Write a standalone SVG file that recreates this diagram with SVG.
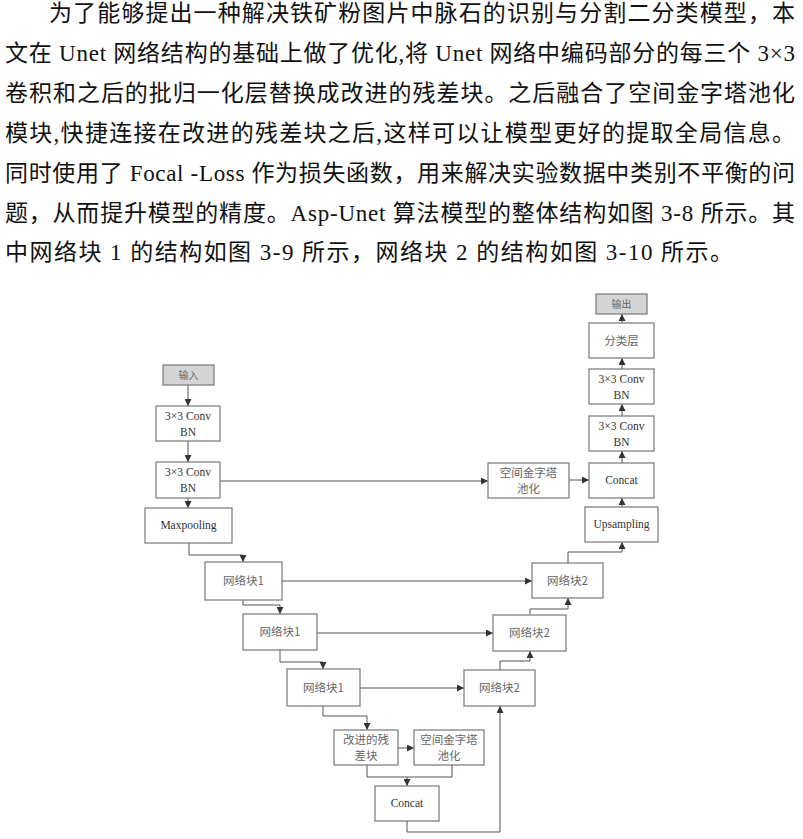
<svg xmlns="http://www.w3.org/2000/svg" width="803" height="839" viewBox="0 0 803 839">
<defs>
<marker id="ah" markerUnits="userSpaceOnUse" markerWidth="7" markerHeight="7" refX="7" refY="3.5" orient="auto">
<path d="M0,0 L7,3.5 L0,7 z" fill="#333"/>
</marker>
<style>
.para{font-family:"Liberation Serif","Noto Sans CJK SC",serif;font-size:23px;fill:#111}
.box{fill:#fff;stroke:#777;stroke-width:1.2}
.gbox{fill:#d4d4d4;stroke:#777;stroke-width:1.2}
.lat{font-family:"Liberation Serif","Noto Sans CJK SC",serif;font-size:11.5px;fill:#333;text-anchor:middle}
.cjk{font-family:"Noto Sans CJK SC",sans-serif;font-size:11.5px;fill:#666;text-anchor:middle}
.sm{font-size:10px}
.conn path{fill:none;stroke:#555;stroke-width:1;marker-end:url(#ah)}
.conn path.nm{marker-end:none}
</style>
</defs>
<rect width="803" height="839" fill="#fff"/>
<g id="paragraph">
<text class="para" x="49" y="21" textLength="746" lengthAdjust="spacing">为了能够提出一种解决铁矿粉图片中脉石的识别与分割二分类模型，本</text>
<text class="para" x="5" y="61" textLength="790" lengthAdjust="spacing">文在 Unet 网络结构的基础上做了优化,将 Unet 网络中编码部分的每三个 3×3</text>
<text class="para" x="5" y="101" textLength="790" lengthAdjust="spacing">卷积和之后的批归一化层替换成改进的残差块。之后融合了空间金字塔池化</text>
<text class="para" x="5" y="141" textLength="790" lengthAdjust="spacing">模块,快捷连接在改进的残差块之后,这样可以让模型更好的提取全局信息。</text>
<text class="para" x="5" y="181" textLength="790" lengthAdjust="spacing">同时使用了 Focal -Loss 作为损失函数，用来解决实验数据中类别不平衡的问</text>
<text class="para" x="5" y="221" textLength="790" lengthAdjust="spacing">题，从而提升模型的精度。Asp-Unet 算法模型的整体结构如图 3-8 所示。其</text>
<text class="para" x="5" y="260" textLength="728" lengthAdjust="spacing">中网络块 1 的结构如图 3-9 所示，网络块 2 的结构如图 3-10 所示。</text>
</g>
<g id="connectors" class="conn">
<path d="M188,385 V406"/>
<path d="M188,441 V462"/>
<path d="M188,498 V508"/>
<path d="M220,481 H488"/>
<path d="M569,480 H589"/>
<path d="M189,543 V555 H243 V562"/>
<path d="M243,600 V605 H280 V614"/>
<path d="M280,650 V662 H323 V669"/>
<path d="M323,706 V716 H367 V730"/>
<path d="M398,748 H414"/>
<path class="nm" d="M367,765 V777 H452 V765"/>
<path d="M407,777 V786"/>
<path d="M407,821 V832 H500 V706"/>
<path d="M282,581 H532"/>
<path d="M317,633 H493"/>
<path d="M360,688 H464"/>
<path d="M500,670 V661 H530 V651"/>
<path d="M530,615 V609 H568 V598"/>
<path d="M568,563 V552 H622 V542"/>
<path d="M622,507 V498"/>
<path d="M622,463 V451"/>
<path d="M622,416 V404"/>
<path d="M622,369 V358"/>
<path d="M622,323 V314"/>
</g>
<g id="input"><rect class="gbox" x="163" y="365" width="51" height="20"/><text class="cjk sm" x="188.5" y="379">输入</text></g>
<g id="conv1"><rect class="box" x="156" y="406" width="64" height="35"/><text class="lat" x="188" y="420">3×3 Conv</text><text class="lat" x="188" y="436">BN</text></g>
<g id="conv2"><rect class="box" x="156" y="462" width="64" height="36"/><text class="lat" x="188" y="476">3×3 Conv</text><text class="lat" x="188" y="492">BN</text></g>
<g id="maxpool"><rect class="box" x="145" y="508" width="87" height="35"/><text class="lat" x="188.5" y="529">Maxpooling</text></g>
<g id="nb1a"><rect class="box" x="205" y="562" width="77" height="38"/><text class="cjk" x="243.5" y="585">网络块1</text></g>
<g id="nb1b"><rect class="box" x="243" y="614" width="74" height="36"/><text class="cjk" x="280" y="636">网络块1</text></g>
<g id="nb1c"><rect class="box" x="287" y="669" width="73" height="37"/><text class="cjk" x="323.5" y="692">网络块1</text></g>
<g id="resblock"><rect class="box" x="334" y="730" width="64" height="35"/><text class="cjk" x="366" y="744">改进的残</text><text class="cjk" x="366" y="760">差块</text></g>
<g id="aspp2"><rect class="box" x="414" y="730" width="70" height="35"/><text class="cjk" x="449" y="744">空间金字塔</text><text class="cjk" x="449" y="760">池化</text></g>
<g id="concat2"><rect class="box" x="375" y="786" width="64" height="35"/><text class="lat" x="407" y="807">Concat</text></g>
<g id="nb2c"><rect class="box" x="464" y="670" width="71" height="36"/><text class="cjk" x="499.5" y="692">网络块2</text></g>
<g id="nb2b"><rect class="box" x="493" y="615" width="73" height="36"/><text class="cjk" x="529.5" y="637">网络块2</text></g>
<g id="nb2a"><rect class="box" x="532" y="563" width="71" height="35"/><text class="cjk" x="567.5" y="585">网络块2</text></g>
<g id="upsampling"><rect class="box" x="585" y="507" width="73" height="35"/><text class="lat" x="621.5" y="528">Upsampling</text></g>
<g id="aspp1"><rect class="box" x="488" y="463" width="81" height="35"/><text class="cjk" x="528.5" y="477">空间金字塔</text><text class="cjk" x="528.5" y="493">池化</text></g>
<g id="concat1"><rect class="box" x="589" y="463" width="65" height="35"/><text class="lat" x="621.5" y="484">Concat</text></g>
<g id="conv4"><rect class="box" x="589" y="416" width="65" height="35"/><text class="lat" x="621.5" y="430">3×3 Conv</text><text class="lat" x="621.5" y="446">BN</text></g>
<g id="conv3"><rect class="box" x="589" y="369" width="65" height="35"/><text class="lat" x="621.5" y="383">3×3 Conv</text><text class="lat" x="621.5" y="399">BN</text></g>
<g id="classifier"><rect class="box" x="589" y="323" width="65" height="35"/><text class="cjk" x="621.5" y="345">分类层</text></g>
<g id="output"><rect class="gbox" x="596" y="294" width="51" height="20"/><text class="cjk sm" x="621.5" y="308">输出</text></g>
</svg>
